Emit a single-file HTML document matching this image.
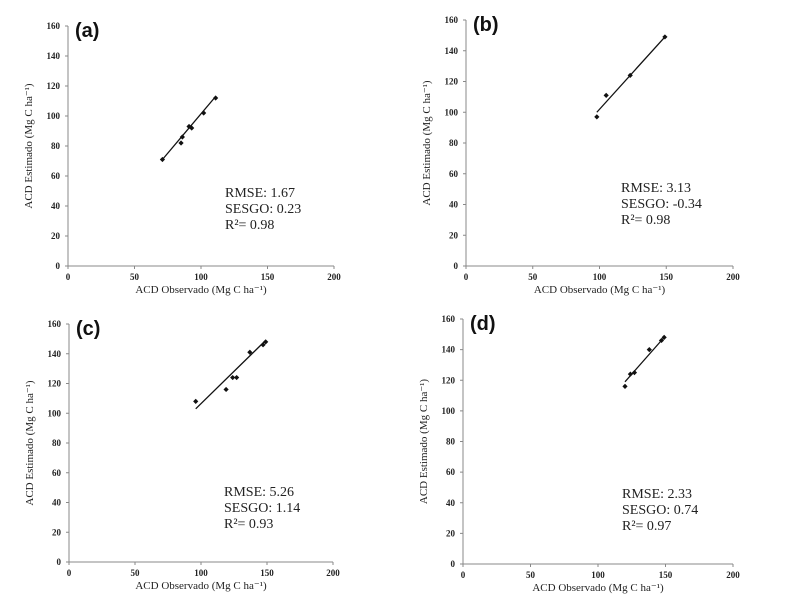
<!DOCTYPE html>
<html><head><meta charset="utf-8"><style>
html,body{margin:0;padding:0;background:#fff;width:785px;height:608px;overflow:hidden}
svg{display:block}
.t{font-family:"Liberation Serif",serif;fill:#222}
.tick{font-size:9px;font-weight:bold}
.ttl{font-size:11px}
.stat{font-size:14px}
.lab{font-family:"Liberation Sans",sans-serif;font-weight:bold;font-size:20px;fill:#111}
</style></head><body>
<svg id="chart" width="785" height="608" viewBox="0 0 785 608" xmlns="http://www.w3.org/2000/svg"></svg>
<script>
const panelLabels=["(a)","(b)","(c)","(d)"];
const xTicks=[0,50,100,150,200];
const yTicks=[0,20,40,60,80,100,120,140,160];
const obsA=[71,85,86,91,93,102,111];
const estA=[71,82,86,93,92,102,112];
const obsB=[98,105,123,149];
const estB=[97,111,124,149];
const obsC=[96,119,124,127,137,147,149];
const estC=[108,116,124,124,141,146,148];
const obsD=[120,124,127,138,147,149];
const estD=[116,124,125,140,146,148];
const fitA=[[71,71],[111,113]];
const fitB=[[98,100],[149,149]];
const fitC=[[96,103],[149,149]];
const fitD=[[120,119],[149,148]];
const statsA=["RMSE: 1.67","SESGO:  0.23","R²= 0.98"];
const statsB=["RMSE: 3.13","SESGO:  -0.34","R²= 0.98"];
const statsC=["RMSE: 5.26","SESGO: 1.14","R²= 0.93"];
const statsD=["RMSE: 2.33","SESGO:  0.74","R²= 0.97"];

const panels=[
 {x0:68,x1:334,y0:266,y1:26,obs:obsA,est:estA,fit:fitA,stats:statsA,sx:225,sy:197},
 {x0:466,x1:733,y0:266,y1:20,obs:obsB,est:estB,fit:fitB,stats:statsB,sx:621,sy:192},
 {x0:69,x1:333,y0:562,y1:324,obs:obsC,est:estC,fit:fitC,stats:statsC,sx:224,sy:496},
 {x0:463,x1:733,y0:564,y1:319,obs:obsD,est:estD,fit:fitD,stats:statsD,sx:622,sy:498}
];
const svg=document.getElementById('chart');
const NS="http://www.w3.org/2000/svg";
function mk(tag,attrs,parent,text){const e=document.createElementNS(NS,tag);for(const k in attrs)e.setAttribute(k,attrs[k]);if(text!==undefined)e.textContent=text;parent.appendChild(e);return e;}
panels.forEach((p,i)=>{
 const g=mk('g',{},svg);
 
 
 const X=v=>p.x0+(p.x1-p.x0)*v/200;
 const Y=v=>p.y0-(p.y0-p.y1)*v/160;
 const ax=mk('path',{d:`M${p.x0},${p.y1}V${p.y0}H${p.x1}`,stroke:'#888',fill:'none','stroke-width':1},g);
 
 
 xTicks.forEach(v=>{
  mk('line',{x1:X(v),x2:X(v),y1:p.y0,y2:p.y0+3,stroke:'#888'},g);
  const t=mk('text',{x:X(v),y:p.y0+14,'text-anchor':'middle',class:'t tick'},g,v);
  
  
 });
 yTicks.forEach(v=>{
  mk('line',{x1:p.x0-3,x2:p.x0,y1:Y(v),y2:Y(v),stroke:'#888'},g);
  const t=mk('text',{x:p.x0-8,y:Y(v)+3,'text-anchor':'end',class:'t tick'},g,v);
  
  
 });
 const xt=mk('text',{x:(p.x0+p.x1)/2,y:p.y0+27,'text-anchor':'middle',class:'t ttl'},g,'ACD Observado  (Mg C ha⁻¹)');
 
 
 const cy=(p.y0+p.y1)/2, cx=p.x0-36;
 const yt=mk('text',{x:cx,y:cy,'text-anchor':'middle',class:'t ttl',transform:`rotate(-90 ${cx} ${cy})`},g,'ACD  Estimado (Mg C ha⁻¹)');
 
 
 const lb=mk('text',{x:p.x0+7,y:p.y1+11,class:'lab'},g,panelLabels[i]);
 
 
 const fl=mk('line',{x1:X(p.fit[0][0]),y1:Y(p.fit[0][1]),x2:X(p.fit[1][0]),y2:Y(p.fit[1][1]),stroke:'#111','stroke-width':1.3},g);
 
 
 p.obs.forEach((o,j)=>{
  const x=X(o),y=Y(p.est[j]);
  const pt=mk('path',{d:`M${x-2.6},${y}L${x},${y-2.6}L${x+2.6},${y}L${x},${y+2.6}Z`,fill:'#111'},g);
  
  
 });
 p.stats.forEach((s,j)=>{
  const t=mk('text',{x:p.sx,y:p.sy+j*16,class:'t stat'},g,s);
  
  
 });
});
</script>
</body></html>
